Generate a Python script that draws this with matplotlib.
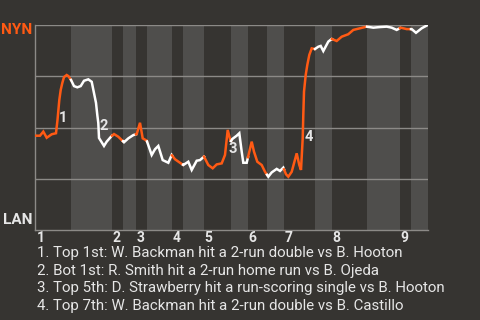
import numpy as np
import matplotlib
matplotlib.use("Agg")
import matplotlib.pyplot as plt
import matplotlib.transforms as mtransforms

plt.rcParams['font.family'] = ['Roboto', 'DejaVu Sans']

# --- data: NYN win probability (%) over the course of the game ---
progress = [0, 5, 8.3, 11.7, 16.7, 21, 22.5, 24.3, 25.7, 27.3, 29, 31.7, 33.3, 36, 39,
            42.3, 45.7, 49, 53.3, 56.7, 59, 61, 62.3, 63.3, 64, 69, 71.7, 76.7, 79, 83.3,
            89, 93.3, 98.3, 101.7, 105, 107.7, 111.7, 116.7, 120, 123.3, 127.7, 133.3,
            136.7, 140, 145, 148.3, 153.3, 156.7, 161.7, 165, 169, 173.3, 177.7, 181.7,
            186.7, 190, 192.7, 195.7, 197.3, 201.7, 204.3, 206.7, 208.3, 211.7, 214.3,
            216.7, 219, 222.3, 226.7, 230, 233.3, 236.7, 241.7, 245, 248.3, 251, 253.3,
            256.7, 261.7, 264.3, 266, 267.7, 268.3, 269, 270.7, 272.3, 274.3, 276.7, 280,
            283.3, 285.7, 288.3, 293.3, 296.7, 301.7, 306.7, 313.3, 318.3, 325, 331.7,
            338.3, 345, 351.7, 356.7, 361.7, 365.7, 371.7, 376.7, 381, 386.7, 392.7]
win_prob = [46.0, 46.0, 48.0, 45.0, 46.7, 47.2, 53.7, 63.4, 68.3, 71.7, 74.6, 75.6, 75.1,
            73.2, 70.2, 69.6, 70.2, 72.8, 73.5, 72.3, 66.8, 62.0, 56.1, 52.2, 44.9, 41.0,
            43.1, 45.9, 46.8, 45.5, 42.8, 44.7, 46.3, 46.8, 52.3, 44.7, 43.6, 36.6, 39.4,
            41.0, 34.1, 32.8, 36.6, 34.5, 32.8, 31.7, 33.3, 29.3, 33.8, 34.1, 35.8, 31.7,
            30.1, 32.0, 32.5, 36.6, 48.8, 43.1, 44.4, 46.0, 47.2, 38.2, 32.8, 32.8, 38.2,
            43.1, 38.2, 33.3, 31.7, 28.4, 26.0, 28.1, 29.8, 28.8, 30.4, 27.2, 26.0, 28.4,
            37.4, 31.7, 29.3, 44.7, 56.1, 67.5, 75.6, 80.5, 85.4, 88.6, 88.3, 89.4, 89.8,
            87.3, 91.9, 93.2, 92.2, 94.3, 95.5, 97.6, 98.4, 99.2, 98.7, 99.0, 99.2, 98.7,
            97.6, 98.7, 98.0, 98.0, 96.2, 98.4, 100.0]

# start/end of each half inning (top 1, bot 1, top 2, ...)
half_edges = [0, 36, 77, 88, 101, 112, 137, 148, 169, 196, 213, 232, 249, 280, 297,
              332, 365, 376, 393]
innings = ['1', '2', '3', '4', '5', '6', '7', '8', '9']

events = [
    "1. Top 1st: W. Backman hit a 2-run double vs B. Hooton",
    "2. Bot 1st: R. Smith hit a 2-run home run vs B. Ojeda",
    "3. Top 5th: D. Strawberry hit a run-scoring single vs B. Hooton",
    "4. Top 7th: W. Backman hit a 2-run double vs B. Castillo",
]
event_x = [28.3, 69, 197.7, 273.3]
event_y = [54.5, 50.7, 39.4, 45.2]

BG = '#363431'
BAND = '#4f4e4c'
ORANGE = '#ff5a14'
GRID = '#8c8a87'
TEXT = '#e6e6e6'

fig = plt.figure(figsize=(4.8, 3.2), dpi=100, facecolor=BG)
ax = fig.add_axes([35 / 480, 1 - 230 / 320, 393 / 480, 205 / 320])
ax.set_facecolor(BG)

# half inning bands
for i in range(len(half_edges) - 1):
    if i % 2 == 1:
        ax.axvspan(half_edges[i], half_edges[i + 1], color=BAND, lw=0, zorder=0)

for g in [25, 50, 75, 100]:
    ax.axhline(g, color=GRID, lw=1, zorder=1)

# line coloured by batting team
xs = np.array(progress)
ys = np.array(win_prob)
for i in range(len(half_edges) - 1):
    a, b = half_edges[i], half_edges[i + 1]
    m = (xs > a) & (xs < b)
    sx = np.concatenate([[a], xs[m], [b]])
    sy = np.concatenate([[np.interp(a, xs, ys)], ys[m], [np.interp(b, xs, ys)]])
    ax.plot(sx, sy, color=ORANGE if i % 2 == 0 else 'white', lw=1.8,
            solid_joinstyle='miter', zorder=3)

for n, (ex, ey) in enumerate(zip(event_x, event_y)):
    ax.text(ex, ey, str(n + 1), color=TEXT, fontsize=10.5, fontweight='bold',
            ha='center', va='center', zorder=4)

ax.set_xlim(0, 393)
ax.set_ylim(0, 100)
ax.set_xticks([])
ax.set_yticks([])
for side in ['top', 'right']:
    ax.spines[side].set_visible(False)
for side in ['left', 'bottom']:
    ax.spines[side].set_color(GRID)
    ax.spines[side].set_linewidth(1)

# inning numbers under the axis
trans = mtransforms.blended_transform_factory(ax.transData, ax.transAxes)
for k, lab in enumerate(innings):
    x0 = half_edges[2 * k] + (1.5 if k == 0 else 0.5)
    ax.text(x0, -0.005, lab, transform=trans, color=TEXT, fontsize=10,
            fontweight='bold', ha='left', va='top')

fig.text(32 / 480, 1 - 30.5 / 320, 'NYN', color=ORANGE, fontsize=11,
         fontweight='bold', ha='right', va='center')
fig.text(32 / 480, 1 - 219.5 / 320, 'LAN', color=TEXT, fontsize=11,
         fontweight='bold', ha='right', va='center')

for j, line in enumerate(events):
    fig.text(37 / 480, 1 - (253 + 17.7 * j) / 320, line, color=TEXT, fontsize=10.8,
             ha='left', va='center')

fig.savefig('out.png', dpi=100, facecolor=BG)
